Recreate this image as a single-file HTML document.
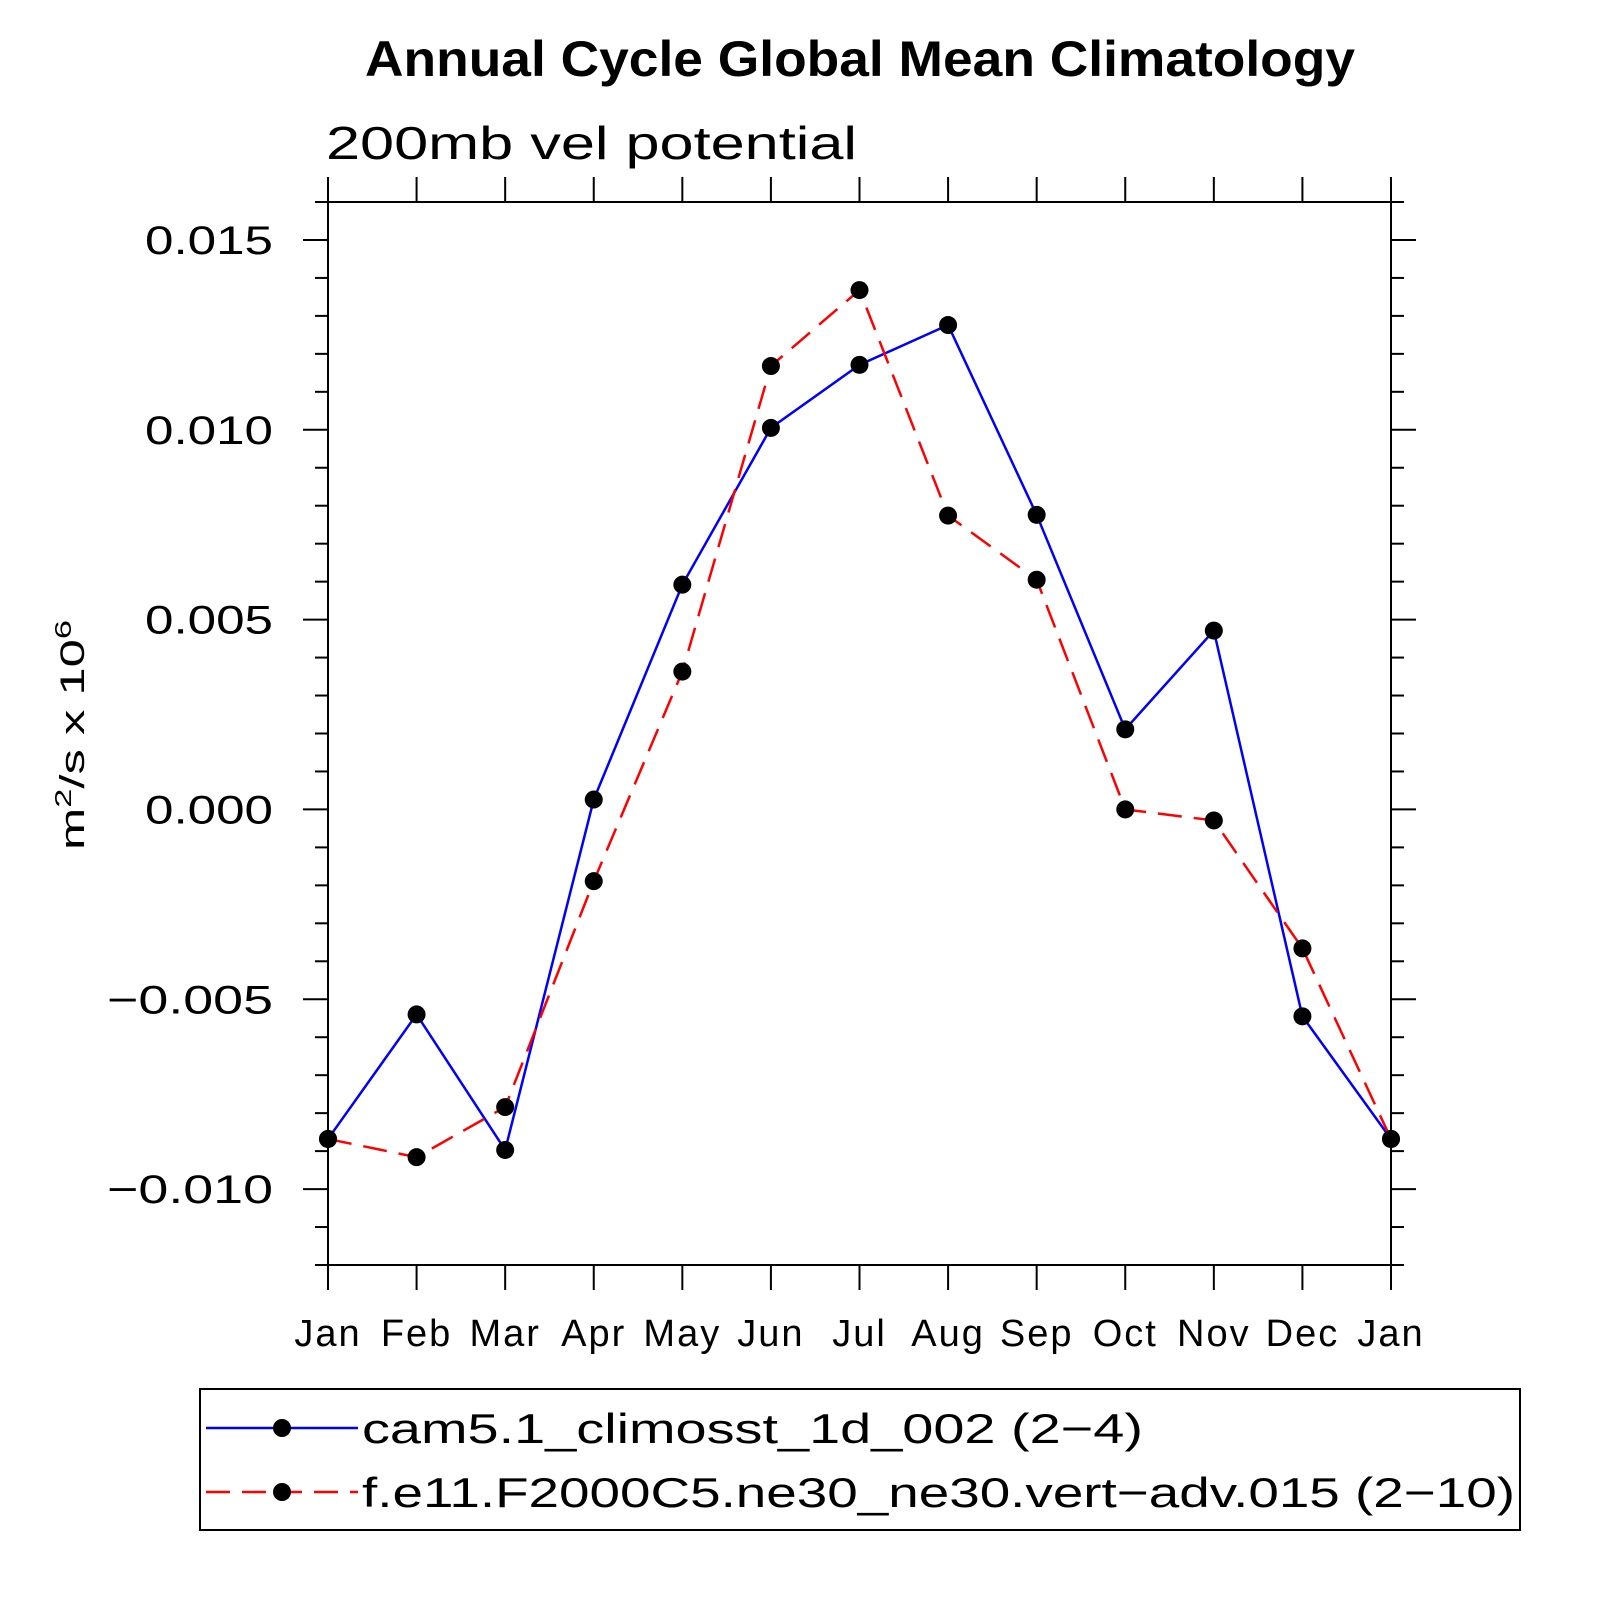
<!DOCTYPE html>
<html><head><meta charset="utf-8">
<style>
html,body{margin:0;padding:0;background:#fff;}
svg{display:block;}
text{font-family:"Liberation Sans",sans-serif;}
</style></head>
<body>
<svg id="chart" width="1597" height="1597" viewBox="0 0 1597 1597" xmlns="http://www.w3.org/2000/svg">
<text x="365" y="76" font-size="50" font-weight="bold" textLength="990" lengthAdjust="spacingAndGlyphs">Annual Cycle Global Mean Climatology</text>
<text x="326" y="159" font-size="46" font-weight="300" textLength="531" lengthAdjust="spacingAndGlyphs">200mb vel potential</text>
<text transform="translate(84,850) rotate(-90)" font-size="34" textLength="230" lengthAdjust="spacingAndGlyphs">m<tspan dy="-13" font-size="23">2</tspan><tspan dy="13">/s x 10</tspan><tspan dy="-13" font-size="23">6</tspan></text>
<g id="axes"></g>
<g id="series"></g>
<g>
<rect x="200" y="1389" width="1320" height="141" fill="none" stroke="#000" stroke-width="2"/>
<g>
<line x1="206" y1="1428" x2="358" y2="1428" stroke="#0000ff" stroke-width="2.5"/>
<circle cx="282" cy="1428" r="9" fill="#000"/>
<text x="362" y="1443" font-size="42" font-weight="300" textLength="781" lengthAdjust="spacingAndGlyphs">cam5.1_climosst_1d_002 (2−4)</text>
</g>
<g>
<line x1="206" y1="1492" x2="358" y2="1492" stroke="#ff0000" stroke-width="2.5" stroke-dasharray="24,12"/>
<circle cx="282" cy="1492" r="9" fill="#000"/>
<text x="362" y="1507" font-size="42" font-weight="300" textLength="1153" lengthAdjust="spacingAndGlyphs">f.e11.F2000C5.ne30_ne30.vert−adv.015 (2−10)</text>
</g>
</g>
</svg>
<script>
const months = ["Jan","Feb","Mar","Apr","May","Jun","Jul","Aug","Sep","Oct","Nov","Dec","Jan"];
const blueValues = [-0.00868,-0.0054,-0.00897,0.00026,0.00592,0.01005,0.01171,0.01276,0.00776,0.00211,0.00471,-0.00545,-0.00868];
const redValues = [-0.00868,-0.00916,-0.00784,-0.00189,0.00363,0.01168,0.01368,0.00774,0.00605,0.0,-0.00029,-0.00366,-0.00868];
const yTickValues = [-0.010,-0.005,0.000,0.005,0.010,0.015];
const yTickLabels = ["−0.010","−0.005","0.000","0.005","0.010","0.015"];
const yMin = -0.012, yMax = 0.016;

const L=328,R=1391,T=202,B=1265;
const NS="http://www.w3.org/2000/svg";
function xs(i){return L+(R-L)*i/(months.length-1);}
function ys(v){return B-(v-yMin)/(yMax-yMin)*(B-T);}
function mk(tag,attrs,parent){const e=document.createElementNS(NS,tag);for(const k in attrs)e.setAttribute(k,attrs[k]);parent.appendChild(e);return e;}
const axes=document.getElementById('axes');
const frame=mk('rect',{x:L,y:T,width:R-L,height:B-T,fill:'none',stroke:'#000','stroke-width':2},axes);


months.forEach((m,i)=>{
  const x=xs(i);
  const t1=mk('line',{x1:x,y1:B,x2:x,y2:B+25,stroke:'#000','stroke-width':2},axes);
  
  
  mk('line',{x1:x,y1:T,x2:x,y2:T-25,stroke:'#000','stroke-width':2},axes);
  const lb=mk('text',{x:x,y:1346,'text-anchor':'middle','font-size':38,'font-weight':300,'letter-spacing':2},axes);
  lb.textContent=m;
  
  
});
for(let k=-12;k<=16;k++){
  const v=k*0.001,y=ys(v);
  if(y<T-0.5||y>B+0.5)continue;
  const major=(k%5===0);
  const len=major?25:13;
  mk('line',{x1:L,y1:y,x2:L-len,y2:y,stroke:'#000','stroke-width':2},axes);
  mk('line',{x1:R,y1:y,x2:R+len,y2:y,stroke:'#000','stroke-width':2},axes);
}
yTickValues.forEach((v,i)=>{
  const neg=yTickLabels[i].charAt(0)==='−';
  const lb=mk('text',{x:273,y:ys(v)+14,'text-anchor':'end','font-size':40,'font-weight':300,textLength:neg?166:128,lengthAdjust:'spacingAndGlyphs'},axes);
  lb.textContent=yTickLabels[i];
  
  
});
const series=document.getElementById('series');
function draw(vals,color,dash,name){
  const pts=vals.map((v,i)=>xs(i)+','+ys(v)).join(' ');
  const pl=mk('polyline',{points:pts,fill:'none',stroke:color,'stroke-width':2.5},series);
  if(dash)pl.setAttribute('stroke-dasharray',dash);
  
  
  vals.forEach((v,i)=>{
    const c=mk('circle',{cx:xs(i),cy:ys(v),r:9,fill:'#000'},series);
    
    
  });
}
draw(blueValues,'#0000ff',null,'cam5-series');
draw(redValues,'#ff0000','24,12','f-e11-series');
</script>
</body></html>
